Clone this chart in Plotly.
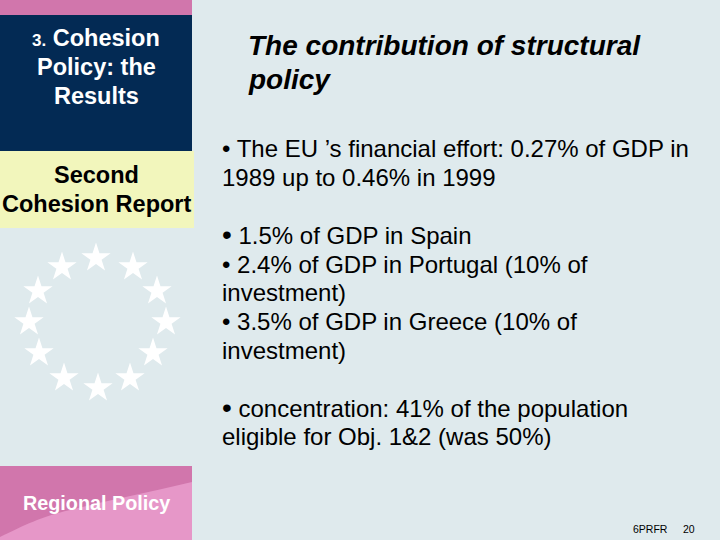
import plotly.graph_objects as go

FONT = "Liberation Sans"
BG = "#DFEAED"
NAVY = "#032A54"
PINK_DARK = "#D176AC"
PINK_LIGHT = "#E697C8"
CREAM = "#F2F6BC"

star_x = [96, 133, 157, 166, 153, 130, 98, 64, 39, 29, 38, 62]
star_y = [258, 267, 291, 322, 353, 378, 388, 378, 353, 322, 291, 267]

left_lines = [
    ("<span style='font-size:17px'>3.</span> Cohesion", 96, 38, 23.5, "#FFFFFF"),
    ("Policy: the", 96, 67, 23.5, "#FFFFFF"),
    ("Results", 96, 96, 23.5, "#FFFFFF"),
    ("Second", 96, 175, 23.5, "#000000"),
    ("Cohesion Report", 96, 204, 23.5, "#000000"),
]
title_lines = [("The contribution of structural", 248, 45), ("policy", 248, 79)]
body_lines = [
    ("• The EU ’s financial effort: 0.27% of GDP in", 222, 148.5),
    ("1989 up to 0.46% in 1999", 222, 177.5),
    ("<span style='font-size:28px'>•</span> 1.5% of GDP in Spain", 222, 234.5),
    ("• 2.4% of GDP in Portugal (10% of", 222, 264),
    ("investment)", 222, 292),
    ("• 3.5% of GDP in Greece (10% of", 222, 321),
    ("investment)", 222, 350),
    ("<span style='font-size:28px'>•</span> concentration: 41% of the population", 222, 407),
    ("eligible for Obj. 1&2 (was 50%)", 222, 436),
]

fig = go.Figure()
fig.add_trace(go.Scatter(
    x=star_x, y=star_y, mode="markers", hoverinfo="skip",
    marker=dict(symbol="star", size=22, color="#FFFFFF", line=dict(width=0)),
))

shapes = [
    dict(type="rect", x0=0, x1=192, y0=0, y1=15, fillcolor=PINK_DARK, line_width=0, layer="below"),
    dict(type="rect", x0=0, x1=192, y0=15, y1=151, fillcolor=NAVY, line_width=0, layer="below"),
    dict(type="rect", x0=0, x1=194, y0=151, y1=228, fillcolor=CREAM, line_width=0, layer="below"),
    dict(type="rect", x0=0, x1=192, y0=466, y1=540, fillcolor=PINK_DARK, line_width=0, layer="below"),
    dict(type="path", path="M0,537 C25,525 40,517 70,510 C110,500 150,492 192,482 L192,540 L0,540 Z",
         fillcolor=PINK_LIGHT, line_width=0, layer="below"),
]

ann = []
for t, x, y, s, c in left_lines:
    ann.append(dict(x=x, y=y, text=f"<b>{t}</b>", font=dict(family=FONT, size=s, color=c),
                    xanchor="center", yanchor="middle", showarrow=False))
for t, x, y in title_lines:
    ann.append(dict(x=x, y=y, text=f"<b><i>{t}</i></b>", font=dict(family=FONT, size=28, color="#000000"),
                    xanchor="left", yanchor="middle", showarrow=False, xshift=-2))
for t, x, y in body_lines:
    ann.append(dict(x=x, y=y, text=t, font=dict(family=FONT, size=24, color="#000000"),
                    xanchor="left", yanchor="middle", showarrow=False, xshift=-2))
ann.append(dict(x=96, y=503, text="<b>Regional Policy</b>", font=dict(family=FONT, size=19.8, color="#FFFFFF"),
                xanchor="center", yanchor="middle", showarrow=False))
ann.append(dict(x=650, y=529, text="6PRFR", font=dict(family=FONT, size=10.5, color="#000000"),
                xanchor="center", yanchor="middle", showarrow=False))
ann.append(dict(x=689, y=529, text="20", font=dict(family=FONT, size=10.5, color="#000000"),
                xanchor="center", yanchor="middle", showarrow=False))

fig.update_layout(
    width=720, height=540, margin=dict(l=0, r=0, t=0, b=0),
    paper_bgcolor=BG, plot_bgcolor=BG, showlegend=False,
    xaxis=dict(range=[0, 720], visible=False, fixedrange=True),
    yaxis=dict(range=[540, 0], visible=False, fixedrange=True),
    shapes=shapes, annotations=ann,
)
fig.write_html(
    "out.html",
    config={"displayModeBar": False},
    post_script="document.body.style.margin='0';document.body.style.overflow='hidden';",
)
